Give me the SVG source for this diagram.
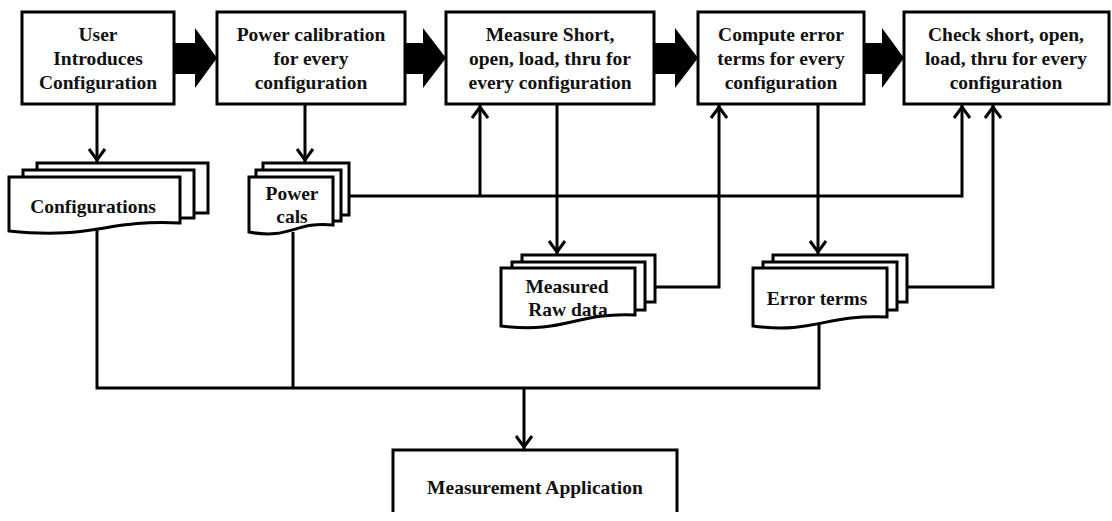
<svg xmlns="http://www.w3.org/2000/svg" width="1112" height="521" viewBox="0 0 1112 521">
<style>
  .box { fill: #fff; stroke: #000; stroke-width: 3; }
  .page { fill: #fff; stroke: #000; stroke-width: 3; stroke-linejoin: miter; }
  .t { font-family: "Liberation Serif", "Times New Roman", serif; font-weight: bold; font-size: 19.5px; fill: #111; text-anchor: middle; }
  .ln { fill: none; stroke: #000; stroke-width: 3; stroke-linejoin: miter; }
  .arr { fill: none; stroke: #000; stroke-width: 3; stroke-linejoin: miter; marker-end: url(#ah); }
  .block { fill: #000; }
</style>
<defs>
  <marker id="ah" markerUnits="userSpaceOnUse" viewBox="0 0 24 24" refX="14" refY="12" markerWidth="24" markerHeight="24" orient="auto" overflow="visible">
    <path d="M1,4 L12,12 L1,20" fill="none" stroke="#000" stroke-width="3" stroke-linejoin="miter"/>
  </marker>
</defs>
<rect width="1112" height="521" fill="#fff"/>

<g id="connectors">
  <!-- block arrows between top boxes -->
  <polygon class="block" points="174,43 195,43 195,28 217,58 195,88 195,74 174,74"/>
  <polygon class="block" points="405,43 423,43 423,28 446,58 423,88 423,74 405,74"/>
  <polygon class="block" points="654,43 675,43 675,28 698,58 675,88 675,74 654,74"/>
  <polygon class="block" points="864,43 882,43 882,28 904,58 882,88 882,74 864,74"/>
  <!-- downward to documents -->
  <path class="arr" d="M97,104 V162"/>
  <path class="arr" d="M305,104 V162"/>
  <path class="arr" d="M557,105 V254"/>
  <path class="arr" d="M818,105 V254"/>
  <!-- power cals to B3 and B5 -->
  <path class="ln" d="M349,196 H962"/>
  <path class="arr" d="M480,196 V105"/>
  <path class="arr" d="M962,197.5 V105"/>
  <!-- measured raw data to B4 -->
  <path class="arr" d="M655,287 H719 V105"/>
  <!-- error terms to B5 -->
  <path class="arr" d="M907,287 H993 V105"/>
  <!-- bus to measurement application -->
  <path class="ln" d="M97,230 V388 H819 V322"/>
  <path class="ln" d="M293,232 V388"/>
  <path class="arr" d="M524,388 V449"/>
</g>

<g id="n-user">
  <rect class="box" x="22" y="12" width="152" height="92"/>
  <text class="t" x="98" y="41">User</text>
  <text class="t" x="98" y="65">Introduces</text>
  <text class="t" x="98" y="89">Configuration</text>
</g>
<g id="n-power">
  <rect class="box" x="217" y="12" width="188" height="92"/>
  <text class="t" x="311" y="41">Power calibration</text>
  <text class="t" x="311" y="65">for every</text>
  <text class="t" x="311" y="89">configuration</text>
</g>
<g id="n-measure">
  <rect class="box" x="446" y="12" width="208" height="92"/>
  <text class="t" x="550" y="41">Measure Short,</text>
  <text class="t" x="550" y="65">open, load, thru for</text>
  <text class="t" x="550" y="89">every configuration</text>
</g>
<g id="n-compute">
  <rect class="box" x="698" y="12" width="166" height="92"/>
  <text class="t" x="781" y="41">Compute error</text>
  <text class="t" x="781" y="65">terms for every</text>
  <text class="t" x="781" y="89">configuration</text>
</g>
<g id="n-check">
  <rect class="box" x="904" y="12" width="205" height="92"/>
  <text class="t" x="1006" y="41">Check short, open,</text>
  <text class="t" x="1006" y="65">load, thru for every</text>
  <text class="t" x="1006" y="89">configuration</text>
</g>

<g id="d-configurations">
  <rect class="page" x="37" y="163" width="171" height="50"/>
  <rect class="page" x="23" y="170" width="171" height="48"/>
  <path class="page" d="M9,177 H180 V223 C 105,219 95,240 9,231 Z"/>
  <text class="t" x="93" y="213">Configurations</text>
</g>
<g id="d-powercals">
  <rect class="page" x="263" y="163" width="86" height="52"/>
  <rect class="page" x="256" y="170" width="85" height="51"/>
  <path class="page" d="M249,177 H333 V225 C 295,221 290,240 249,232 Z"/>
  <text class="t" x="292" y="200">Power</text>
  <text class="t" x="292" y="223">cals</text>
</g>
<g id="d-rawdata">
  <rect class="page" x="522" y="255" width="133" height="47"/>
  <rect class="page" x="512" y="262" width="133" height="48"/>
  <path class="page" d="M501,268 H635 V315 C 575,312 565,334 501,326 Z"/>
  <text class="t" x="567" y="293">Measured</text>
  <text class="t" x="568" y="316">Raw data</text>
</g>
<g id="d-errorterms">
  <rect class="page" x="773" y="255" width="134" height="47"/>
  <rect class="page" x="763" y="262" width="134" height="48"/>
  <path class="page" d="M753,268 H887 V317 C 825,314 815,334 753,326 Z"/>
  <text class="t" x="817" y="305">Error terms</text>
</g>

<g id="n-app">
  <rect x="393" y="450" width="284" height="62" fill="#fff"/>
  <path class="ln" d="M393,512 V450 H677 V512"/>
  <text class="t" x="535" y="494">Measurement Application</text>
</g>
</svg>
